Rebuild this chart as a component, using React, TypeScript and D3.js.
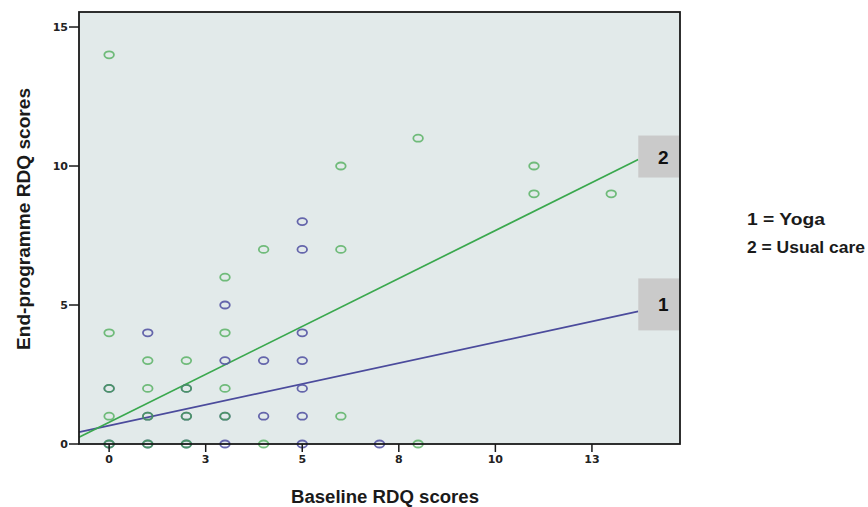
import { useMemo } from "react";
import * as d3 from "d3";

// baseline RDQ (x) vs end-programme RDQ (y), one entry per visible marker
const yogaX = [5, 5, 3, 1, 5, 3, 4, 5, 5, 0, 2, 1, 2, 3, 4, 5, 0, 1, 2, 3, 5, 7];
const yogaY = [8, 7, 5, 4, 4, 3, 3, 3, 2, 2, 2, 1, 1, 1, 1, 1, 0, 0, 0, 0, 0, 0];

const usualX = [0, 6, 8, 11, 11, 13, 4, 6, 3, 0, 3, 1, 2, 0, 1, 2, 3, 0, 1, 2, 3, 6, 0, 1, 2, 4, 8];
const usualY = [14, 10, 11, 10, 9, 9, 7, 7, 6, 4, 4, 3, 3, 2, 2, 2, 2, 1, 1, 1, 1, 1, 0, 0, 0, 0, 0];

// fitted lines: label, intercept, slope
const fitLabels = ["1", "2"];
const fitIntercepts = [0.66, 0.78];
const fitSlopes = [0.3, 0.69];
const fitEndX = 13.7;

const xTicks = [0, 2.5, 5, 7.5, 10, 12.5];
const xTickLabels = ["0", "3", "5", "8", "10", "13"];
const yTicks = [0, 5, 10, 15];

const legendLines = ["1 = Yoga", "2 = Usual care"];

const W = 868;
const H = 507;
const plot = { left: 79, top: 12, right: 680, bottom: 444 };

const BLUE = "#5656a4";
const GREEN = "#3ea64a";
const LINE_BLUE = "#4b4b9c";
const LINE_GREEN = "#3aa84e";

export default function App() {
  const x = useMemo(
    () => d3.scaleLinear().domain([-0.78, 14.78]).range([plot.left, plot.right]),
    []
  );
  const y = useMemo(
    () => d3.scaleLinear().domain([0, 15.54]).range([plot.bottom, plot.top]),
    []
  );

  const fitPath = (i: number) => {
    const x0 = x.domain()[0];
    const pts: [number, number][] = [
      [x0, fitIntercepts[i] + fitSlopes[i] * x0],
      [fitEndX, fitIntercepts[i] + fitSlopes[i] * fitEndX],
    ];
    return d3
      .line<[number, number]>()
      .x((d) => x(d[0]))
      .y((d) => y(d[1]))(pts);
  };

  // label boxes, offsets per label
  const boxTop = [-33, -24];
  const boxH = [52, 42];

  const font = "'Liberation Sans', Arial, sans-serif";
  const tickFont = "'DejaVu Sans', Verdana, sans-serif";

  return (
    <svg
      width={W}
      height={H}
      style={{ position: "absolute", left: 0, top: 0, background: "#fff" }}
    >
      <rect
        x={plot.left}
        y={plot.top}
        width={plot.right - plot.left}
        height={plot.bottom - plot.top}
        fill="#e2eaea"
      />

      {/* regression lines */}
      {fitLabels.map((lab, i) => (
        <path
          key={"fit" + lab}
          d={fitPath(i) ?? ""}
          stroke={i === 0 ? LINE_BLUE : LINE_GREEN}
          strokeWidth={1.7}
          fill="none"
        />
      ))}

      {/* markers */}
      {yogaX.map((v, i) => (
        <ellipse
          key={"y" + i}
          cx={x(v)}
          cy={y(yogaY[i])}
          rx={4.8}
          ry={3.5}
          fill="none"
          stroke={BLUE}
          strokeWidth={1.8}
          strokeOpacity={0.9}
        />
      ))}
      {usualX.map((v, i) => (
        <ellipse
          key={"u" + i}
          cx={x(v)}
          cy={y(usualY[i])}
          rx={4.8}
          ry={3.5}
          fill="none"
          stroke={GREEN}
          strokeWidth={1.8}
          strokeOpacity={0.7}
        />
      ))}

      {/* line labels */}
      {fitLabels.map((lab, i) => {
        const ey = y(fitIntercepts[i] + fitSlopes[i] * fitEndX);
        const bx = x(fitEndX);
        return (
          <g key={"lab" + lab}>
            <rect
              x={bx}
              y={ey + boxTop[i]}
              width={plot.right - bx - 1}
              height={boxH[i]}
              fill="#cacaca"
            />
            <text
              x={bx + 25}
              y={ey + boxTop[i] + boxH[i] / 2 + 7}
              textAnchor="middle"
              fontFamily={font}
              fontWeight="bold"
              fontSize={19}
              fill="#111"
            >
              {lab}
            </text>
          </g>
        );
      })}

      {/* frame */}
      <rect
        x={plot.left}
        y={plot.top}
        width={plot.right - plot.left}
        height={plot.bottom - plot.top}
        fill="none"
        stroke="#1a1a1a"
        strokeWidth={1.8}
      />

      {/* y axis */}
      {yTicks.map((t) => (
        <g key={"yt" + t}>
          <line
            x1={plot.left - 10}
            x2={plot.left}
            y1={y(t)}
            y2={y(t)}
            stroke="#1a1a1a"
            strokeWidth={1.5}
          />
          <text
            x={plot.left - 11}
            y={y(t)}
            dy="0.36em"
            textAnchor="end"
            fontFamily={tickFont}
            fontWeight="bold"
            fontSize={11}
            fill="#222"
          >
            {t}
          </text>
        </g>
      ))}

      {/* x axis */}
      {xTicks.map((t, i) => (
        <g key={"xt" + t}>
          <line
            x1={x(t)}
            x2={x(t)}
            y1={plot.bottom}
            y2={plot.bottom + 8}
            stroke="#1a1a1a"
            strokeWidth={1.5}
          />
          <text
            x={x(t)}
            y={plot.bottom + 19}
            textAnchor="middle"
            fontFamily={tickFont}
            fontWeight="bold"
            fontSize={11}
            fill="#222"
          >
            {xTickLabels[i]}
          </text>
        </g>
      ))}

      {/* axis titles */}
      <text
        x={385}
        y={503}
        textAnchor="middle"
        fontFamily={font}
        fontWeight="bold"
        fontSize={18}
        textLength={188}
        lengthAdjust="spacingAndGlyphs"
        fill="#1a1a1a"
      >
        Baseline RDQ scores
      </text>
      <text
        transform="translate(30,219) rotate(-90)"
        textAnchor="middle"
        fontFamily={font}
        fontWeight="bold"
        fontSize={18}
        textLength={262}
        lengthAdjust="spacingAndGlyphs"
        fill="#1a1a1a"
      >
        End-programme RDQ scores
      </text>

      {/* legend */}
      <text x={747} y={225} fontFamily={font} fontWeight="bold" fontSize={17} textLength={78} lengthAdjust="spacingAndGlyphs" fill="#1a1a1a">
        {legendLines[0]}
      </text>
      <text x={747} y={253} fontFamily={font} fontWeight="bold" fontSize={17} textLength={118} lengthAdjust="spacingAndGlyphs" fill="#1a1a1a">
        {legendLines[1]}
      </text>
    </svg>
  );
}
